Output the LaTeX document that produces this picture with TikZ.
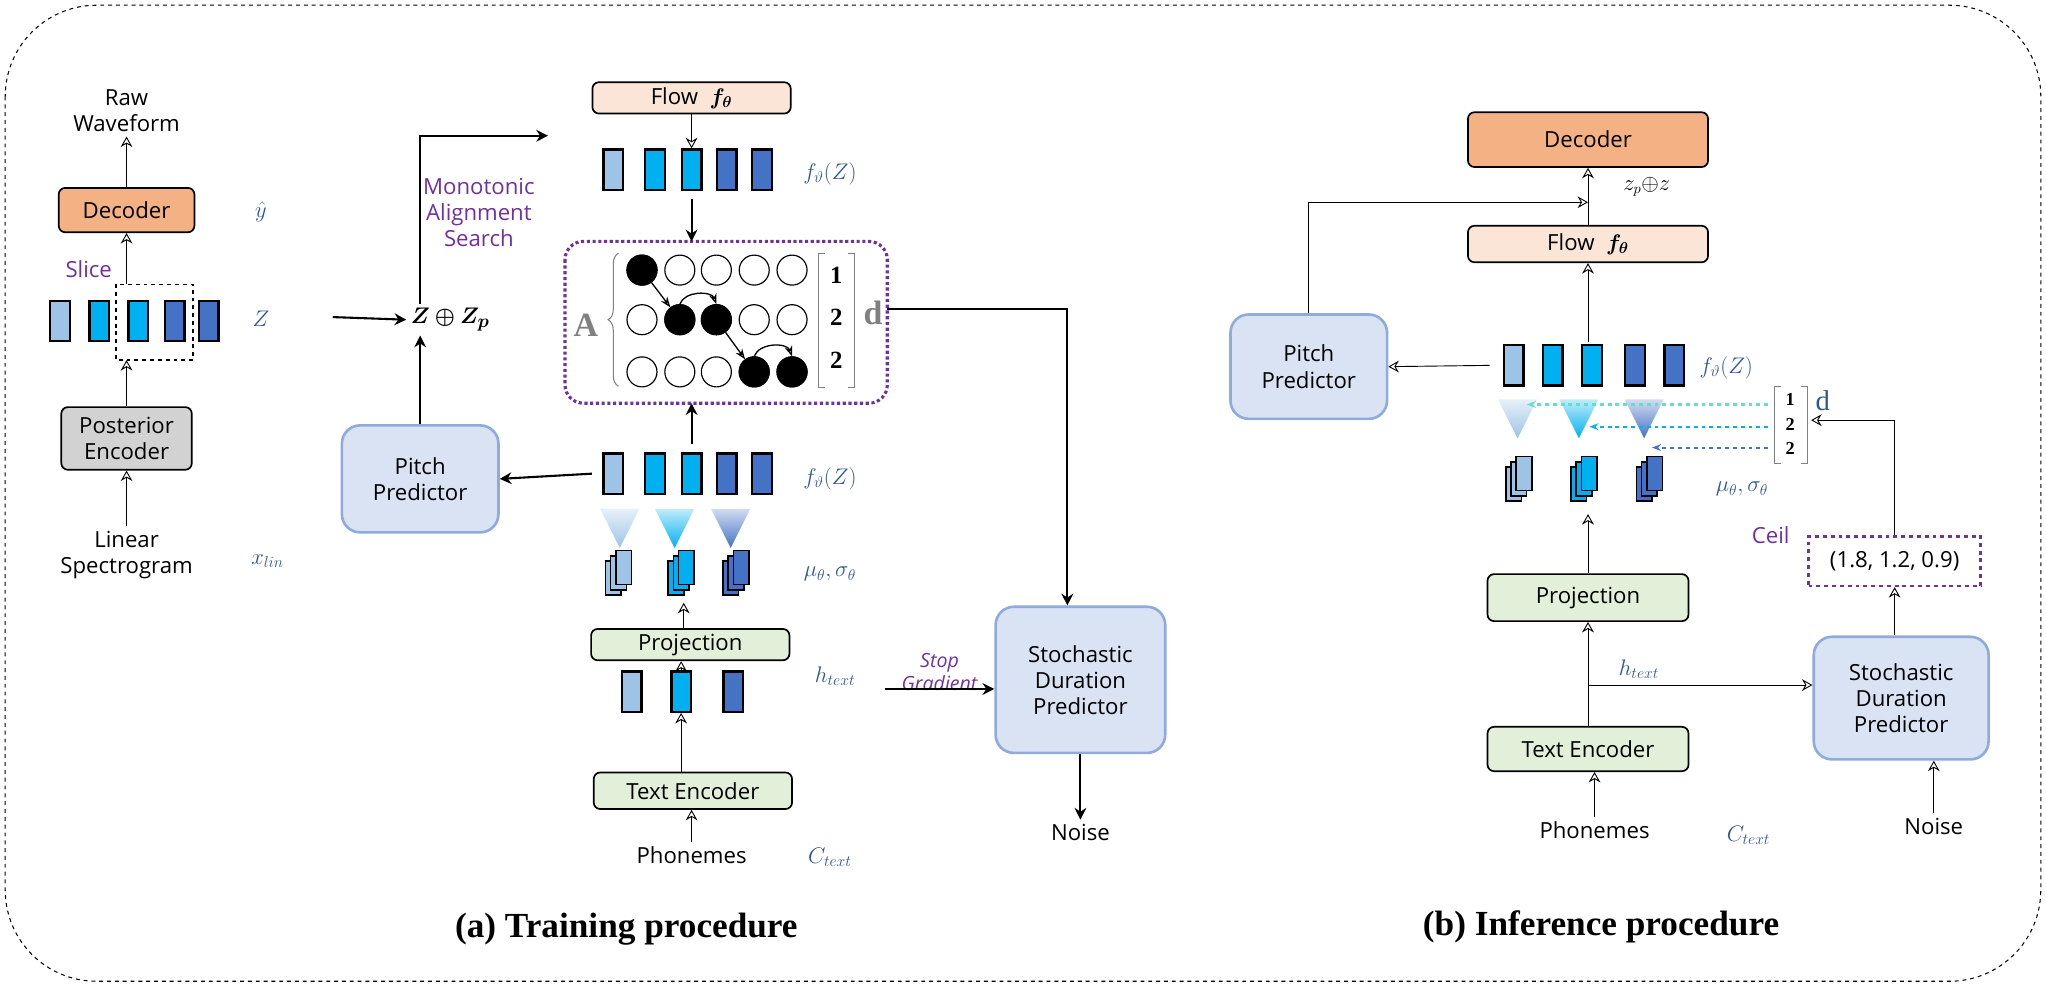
\documentclass[tikz,border=0pt]{standalone}
\usepackage{fontspec}
\usepackage{amsmath,bm}
\usetikzlibrary{arrows.meta,positioning,decorations.pathreplacing}
\newfontfamily\lab{Open Sans}
\newfontfamily\ttl{Liberation Serif}
\definecolor{lb}{HTML}{9DC3E6}
\definecolor{cy}{HTML}{00B0F0}
\definecolor{db}{HTML}{4472C4}
\definecolor{mblue}{HTML}{2F5597}
\definecolor{purp}{HTML}{7030A0}
\definecolor{orng}{HTML}{F4B183}
\definecolor{peach}{HTML}{FBE5D6}
\definecolor{grn}{HTML}{E2F0D9}
\definecolor{pbox}{HTML}{DAE3F3}
\definecolor{pedge}{HTML}{8FAADC}
\definecolor{tealc}{HTML}{66DDCC}
\tikzset{
  txt/.style={font=\lab\fontsize{17}{20}\selectfont, align=center},
  box/.style={txt, draw=black, line width=1.3pt, rounded corners=5pt, inner sep=0pt},
  pred/.style={txt, draw=pedge, fill=pbox, line width=2pt, rounded corners=14pt, inner sep=0pt},
  blk/.style={draw=black, line width=1.8pt, minimum width=15pt, minimum height=31pt, inner sep=0pt},
  mth/.style={text=mblue, font=\fontsize{17}{20}\selectfont},
  arr/.style={-{Stealth[open,length=8pt,width=9pt]}, line width=0.7pt},
  barr/.style={-{Stealth[length=9pt,width=9pt]}, line width=1.6pt},
  cel/.style={circle, draw=black, line width=0.9pt, minimum size=23pt, inner sep=0pt},
  on/.style={cel, fill=black},
}
\newcommand{\tri}[3]{\shade[top color=#3!25, bottom color=#3] (#1-15,#2) -- (#1+15,#2) -- (#1,#2+30) -- cycle;}
\newcommand{\stk}[3]{\foreach \o in {0,4,8} \draw[fill=#3, line width=1.2pt] (#1-6+\o,#2-\o) rectangle (#1+6+\o,#2+26-\o);}
\begin{document}
\begin{tikzpicture}[x=1pt,y=-1pt]
\useasboundingbox (0,0) rectangle (1568,756);
\draw[dashed, line width=0.8pt, rounded corners=70pt] (4,4) rectangle (1564,752);

% ---- (a) left column
\node[txt] (wave) at (97,85) {Raw\\Waveform};
\node[box, fill=orng, minimum width=104pt, minimum height=34pt] (dec) at (97,161) {Decoder};
\node[mth] (yhat) at (200,162) {$\hat{y}$};
\node[txt, text=purp] (slice) at (68,206) {Slice};
\foreach \x/\c [count=\i] in {46/lb,76/cy,106/cy,134/db,160/db}
  \node[blk, fill=\c] (z\i) at (\x,246) {};
\draw[dashed, line width=1.2pt] (89,218) rectangle (148,276);
\node[mth] (zlab) at (200,244) {$Z$};
\node[box, fill=gray!35, minimum width=100pt, minimum height=48pt] (post) at (97,336) {Posterior\\Encoder};
\node[txt] (spec) at (97,425) {Linear\\Spectrogram};
\node[mth] (xlin) at (205,430) {$x_{lin}$};
\coordinate (zb) at (97,276);
\coordinate (zt) at (97,218);
\draw[arr] (dec.north) -- (wave.south);
\draw[arr] (zt) -- (dec.south);
\draw[arr] (post.north) -- (zb);
\draw[arr] (spec.north) -- (post.south);

\node[font=\fontsize{19}{22}\selectfont] (zzp) at (345,245) {$\bm{Z\oplus Z_p}$};
\coordinate (zin) at (255,243);
\draw[barr] (zin) -- (zzp.west);
\node[pred, minimum width=120pt, minimum height=82pt] (pp) at (322,367) {Pitch\\Predictor};
\draw[barr] (pp.north) -- (pp.north |- zzp.south);
\node[txt, text=purp] (mas) at (367,163) {Monotonic\\Alignment\\Search};
\coordinate (topr) at (420,104);
\draw[barr] (zzp.north -| pp.north) -- (pp.north |- topr) -- (topr);

% ---- (a) middle column
\node[box, fill=peach, minimum width=152pt, minimum height=24pt] (flow) at (530,75) {Flow \ $\bm{f_\theta}$};
\foreach \x/\c [count=\i] in {470/lb,502/cy,530/cy,557/db,584/db}
  \node[blk, fill=\c] (fa\i) at (\x,130) {};
\node[mth] (fal) at (636,133) {$f_\vartheta(Z)$};
\draw[arr] (flow.south) -- (fa3.north);

\draw[purp, dotted, line width=2.4pt, rounded corners=14pt] (433,185) rectangle (680,309);
\coordinate (boxt) at (530,185);
\coordinate (boxb) at (530,309);
\coordinate (boxr) at (680,237);
\coordinate (mr) at (818,237);
\draw[barr] (fa3.south) ++(0,6) -- (boxt);
\foreach \r/\y in {1/207,2/245,3/285}
  \foreach \cc/\x in {1/492,2/521,3/549,4/578,5/607}
    \node[cel] (c\r\cc) at (\x,\y) {};
\foreach \n in {11,22,23,34,35} \node[on] at (c\n) {};
\draw[-{Stealth[open,length=8pt]}, line width=1pt] (c11) -- (c22);
\draw[-{Stealth[open,length=8pt]}, line width=1pt] (c23) -- (c34);
\draw[-{Stealth[open,length=8pt]}, line width=1pt] (c22.north) to[out=70,in=110] (c23.north);
\draw[-{Stealth[open,length=8pt]}, line width=1pt] (c34.north) to[out=70,in=110] (c35.north);
\draw[gray, line width=0.8pt, decorate, decoration={brace,amplitude=8pt}] (474,296) -- (474,194);
\node[gray, font=\ttl\bfseries\fontsize{26}{26}\selectfont] (alab) at (449,249) {A};
\draw[gray, line width=0.8pt] (632,194) -- (627,194) -- (627,297) -- (632,297);
\draw[gray, line width=0.8pt] (650,194) -- (655,194) -- (655,297) -- (650,297);
\foreach \v/\y in {1/211,2/243,2/276} \node[font=\ttl\bfseries\fontsize{19}{19}\selectfont] at (641,\y) {\v};
\node[gray, font=\ttl\bfseries\fontsize{26}{26}\selectfont] (dlab) at (669,240) {d};

\foreach \x/\c [count=\i] in {470/lb,502/cy,530/cy,557/db,584/db}
  \node[blk, fill=\c] (fb\i) at (\x,363) {};
\node[mth] (fbl) at (636,367) {$f_\vartheta(Z)$};
\draw[barr] (fb3.north) ++(0,-6) -- (boxb);
\draw[barr] (fb1.west) ++(-8,0) -- (pp.east);
\tri{475}{390}{lb} \tri{517}{390}{cy} \tri{560}{390}{db}
\stk{470}{430}{lb} \stk{518}{430}{cy} \stk{560}{430}{db}
\node[mth] (mua) at (636,440) {$\mu_\theta, \sigma_\theta$};
\node[box, fill=grn, minimum width=152pt, minimum height=24pt] (proja) at (529,494) {Projection};
\coordinate (sta) at (524,462);
\draw[arr] (proja.north -| sta) -- (sta);
\foreach \x/\c [count=\i] in {484/lb,522/cy,562/db}
  \node[blk, fill=\c] (h\i) at (\x,530) {};
\node[mth] (hal) at (640,518) {$h_{text}$};
\draw[arr] (h2.north) -- (proja.south -| h2.north);
\node[box, fill=grn, minimum width=152pt, minimum height=28pt] (tea) at (531,606) {Text Encoder};
\draw[arr] (tea.north -| h2.south) -- (h2.south);
\node[txt] (pha) at (530,655) {Phonemes};
\node[mth] (cta) at (636,657) {$C_{text}$};
\draw[arr] (pha.north) -- (tea.south -| pha.north);

\node[pred, minimum width=130pt, minimum height=112pt] (sdpa) at (828,521) {Stochastic\\Duration\\Predictor};
\node[txt, text=purp, font=\lab\itshape\fontsize{15}{17}\selectfont] (stop) at (720,515) {Stop\\Gradient};
\coordinate (ha) at (678,528);
\draw[barr] (ha) -- (ha -| sdpa.west);
\draw[barr] (boxr) -- (mr) -- (mr |- sdpa.north);
\node[txt] (noisea) at (828,638) {Noise};
\draw[barr] (sdpa.south) -- (noisea.north);
\node[font=\ttl\bfseries\fontsize{27}{30}\selectfont] (ta) at (480,712) {(a) Training procedure};

% ---- (b) inference
\node[box, fill=orng, minimum width=184pt, minimum height=42pt] (decb) at (1217,107) {Decoder};
\node[box, fill=peach, minimum width=184pt, minimum height=28pt] (flowb) at (1217,187) {Flow \ $\bm{f_\theta}$};
\node[font=\fontsize{16}{18}\selectfont] (zpz) at (1262,143) {$z_p{\oplus}z$};
\draw[arr] (flowb.north) -- (decb.south);
\node[pred, minimum width=120pt, minimum height=80pt] (ppb) at (1003,281) {Pitch\\Predictor};
\coordinate (join) at (1217,155);
\draw[arr] (ppb.north) -- (ppb.north |- join) -- (join);
\foreach \x/\c [count=\i] in {1160/lb,1190/cy,1220/cy,1253/db,1283/db}
  \node[blk, fill=\c] (fc\i) at (\x,280) {};
\node[mth] (fcl) at (1323,282) {$f_\vartheta(Z)$};
\coordinate (fct) at (1217,262);
\draw[arr] (fct) -- (flowb.south);
\draw[arr] (fc1.west) ++(-10,0) -- (ppb.east);
\tri{1163}{306}{lb} \tri{1210}{306}{cy} \tri{1260}{306}{db}
\draw[gray, line width=0.8pt] (1365,296) -- (1360,296) -- (1360,355) -- (1365,355);
\draw[gray, line width=0.8pt] (1380,296) -- (1385,296) -- (1385,355) -- (1380,355);
\foreach \v/\y in {1/306,2/325,2/344} \node[font=\ttl\bfseries\fontsize{14}{14}\selectfont] at (1372,\y) {\v};
\node[text=mblue, font=\ttl\fontsize{22}{22}\selectfont] (db) at (1397,307) {d};
\coordinate (br1) at (1355,310);
\coordinate (br2) at (1355,327);
\coordinate (br3) at (1355,343);
\coordinate (tg1) at (1170,310);
\coordinate (tg2) at (1218,327);
\coordinate (tg3) at (1266,343);
\draw[dashed, tealc, line width=1.6pt, -{Stealth[length=7pt]}] (br1) -- (tg1);
\draw[dashed, cy, line width=1.6pt, -{Stealth[length=7pt]}] (br2) -- (tg2);
\draw[dashed, db, line width=1.6pt, -{Stealth[length=7pt]}] (br3) -- (tg3);
\stk{1160}{358}{lb} \stk{1210}{358}{cy} \stk{1260}{358}{db}
\node[mth] (mub) at (1335,375) {$\mu_\theta, \sigma_\theta$};
\node[box, fill=grn, minimum width=154pt, minimum height=36pt] (projb) at (1217,458) {Projection};
\coordinate (stb) at (1217,394);
\draw[arr] (projb.north) -- (stb);
\node[box, fill=grn, minimum width=154pt, minimum height=34pt] (teb) at (1217,574) {Text Encoder};
\draw[arr] (teb.north) -- (projb.south);
\node[txt] (phb) at (1222,636) {Phonemes};
\node[mth] (ctb) at (1340,640) {$C_{text}$};
\draw[arr] (phb.north) -- (teb.south -| phb.north);
\node[pred, minimum width=134pt, minimum height=94pt] (sdpb) at (1457,535) {Stochastic\\Duration\\Predictor};
\node[mth] (hbl) at (1256,513) {$h_{text}$};
\coordinate (hb) at (1217,525);
\draw[arr] (hb) -- (hb -| sdpb.west);
\node[txt] (noiseb) at (1482,633) {Noise};
\draw[arr] (noiseb.north) -- (noiseb.north |- sdpb.south);
\node[txt, draw=purp, dashed, line width=2pt, minimum width=132pt, minimum height=38pt] (ceilb) at (1452,430) {(1.8, 1.2, 0.9)};
\node[txt, text=purp] (ceil) at (1357,410) {Ceil};
\draw[arr] (ceilb.south |- sdpb.north) -- (ceilb.south);
\coordinate (brd) at (1388,322);
\draw[arr] (ceilb.north) -- (ceilb.north |- brd) -- (brd);
\node[font=\ttl\bfseries\fontsize{27}{30}\selectfont] (tb) at (1227,710) {(b) Inference procedure};
\end{tikzpicture}
\end{document}
